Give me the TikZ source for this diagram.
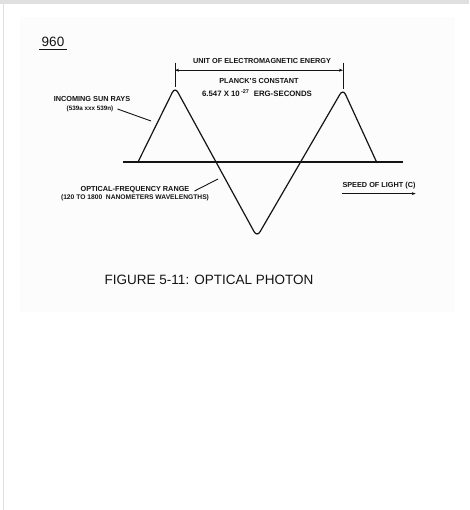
\documentclass[tikz,border=0pt]{standalone}
\usepackage{fontspec}
\setmainfont{Liberation Sans}
\usetikzlibrary{arrows.meta, positioning, calc}
\definecolor{cFrame}{RGB}{224, 224, 224}
\definecolor{cPanel}{RGB}{252, 252, 252}
\definecolor{tInk}{RGB}{20, 20, 20}

\begin{document}
\begin{tikzpicture}[
    x=1pt, y=-1pt,
    >={Stealth[length=4pt, width=3pt]},
    lbl/.style={font=\fontsize{7.3}{8}\selectfont\bfseries, text=tInk, inner sep=0pt},
    wave/.style={line width=1.2pt, draw=tInk, rounded corners=6pt},
    leader/.style={line width=0.9pt, draw=tInk}
]
\useasboundingbox (0,0) rectangle (469,510);

% page frame
\fill[cFrame] (0,0) rectangle (469,4.5);
\fill[cFrame] (2.5,4.5) rectangle (4,510);
\fill[cPanel] (20,17) rectangle (455,312);

% page number
\node[font=\fontsize{13.5}{15}\selectfont, text=tInk, inner sep=0pt] (page) at (53,42) {960};
\draw[line width=1pt, tInk] (39,50) -- (67,50);

% the photon wave
\coordinate (footA) at (138,162);
\coordinate (peakA) at (175,87);
\coordinate (trough) at (257,237);
\coordinate (peakB) at (343,89);
\coordinate (footB) at (377,163);
\draw[line width=1.3pt, tInk] (123,162) -- (403,162);
\draw[wave] (footA) -- (peakA) -- (trough) -- (peakB) -- (footB);

% energy span
\coordinate (tickA) at (175,63);
\coordinate (tickB) at (343,63);
\draw[line width=0.8pt, tInk] (tickA) -- (peakA);
\draw[line width=0.8pt, tInk] (tickB) -- (peakB);
\draw[<->, line width=0.8pt, tInk] ($(tickA)!0.3!(peakA)$) coordinate (spanA) -- (spanA -| tickB);

\node[lbl] (unit) at (262,61) {UNIT OF ELECTROMAGNETIC ENERGY};
\node[lbl] (planck) at (259,81) {PLANCK'S CONSTANT};
\node[lbl, font=\fontsize{7.8}{9}\selectfont\bfseries] (erg) at (257,93) {6.547 X 10\,\textsuperscript{-27}\ \ ERG-SECONDS};

% left labels
\node[lbl] (sun) at (92,99) {INCOMING SUN RAYS};
\node[lbl, font=\fontsize{6.3}{7}\selectfont\bfseries] (sunref) at (90,109) {(539a xxx 539n)};
\coordinate (sunTip) at (151,121);
\draw[leader] (sunref.east) ++(4,0) -- (sunTip);

\node[lbl] (optical) at (135,190) {OPTICAL-FREQUENCY RANGE};
\node[lbl, font=\fontsize{6.7}{7}\selectfont\bfseries] (nano) at (135,198) {(120 TO 1800\ \ NANOMETERS WAVELENGTHS)};
\coordinate (optTip) at (218,179);
\draw[leader] (optical.east) ++(5,1) -- (optTip);

% direction of travel
\node[lbl] (speed) at (379,186) {SPEED OF LIGHT (C)};
\draw[->, line width=1.2pt, tInk] (speed.south west) ++(0,4) coordinate (spdA) -- (spdA -| speed.south east);

% caption
\node[font=\fontsize{13.5}{15}\selectfont, text=tInk, inner sep=0pt] (caption) at (209,280) {FIGURE 5-11: OPTICAL PHOTON};

\end{tikzpicture}
\end{document}
